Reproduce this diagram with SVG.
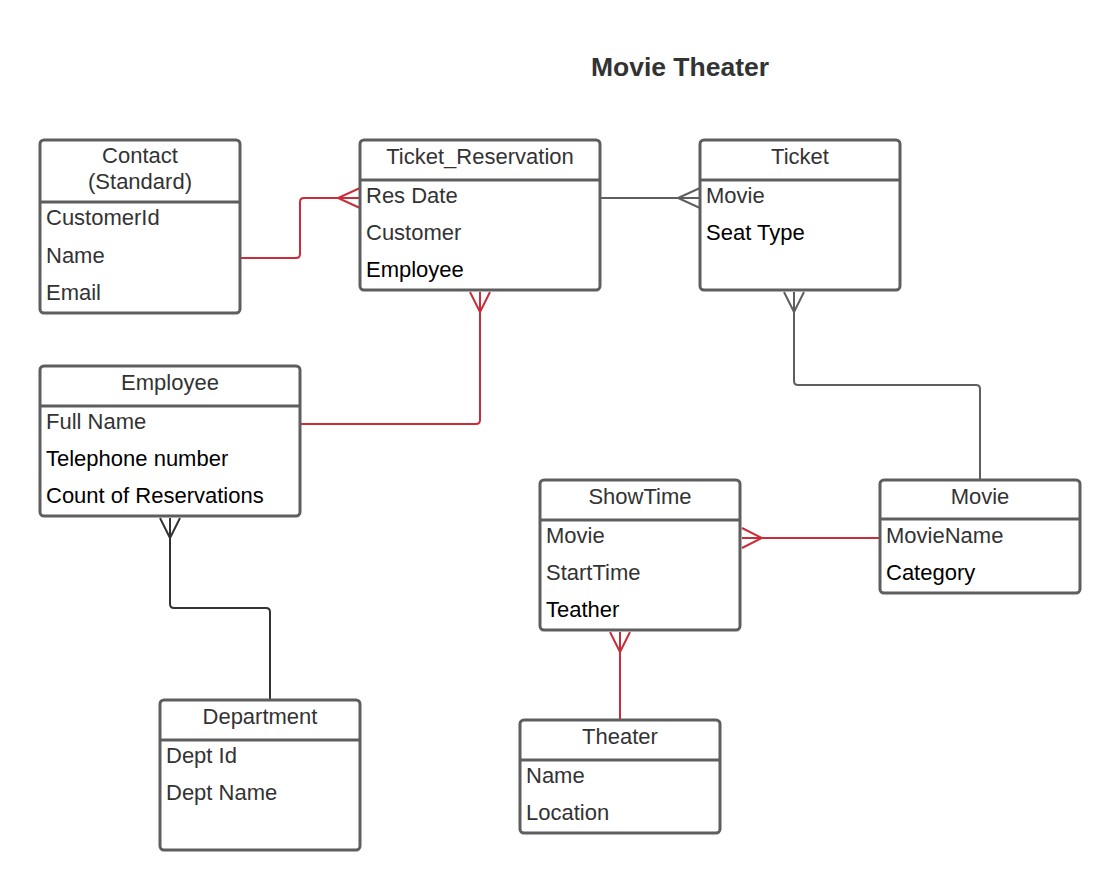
<svg xmlns="http://www.w3.org/2000/svg" width="1120" height="891" viewBox="0 0 1120 891">
<style>
.box{fill:#fff;stroke:#5e5e5e;stroke-width:3}
.div{stroke:#5e5e5e;stroke-width:3}
.hd{font-family:"Liberation Sans",Arial,sans-serif;font-size:22px;fill:#333;text-anchor:middle}
.at{font-family:"Liberation Sans",Arial,sans-serif;font-size:22px;fill:#333}
.bk{fill:#000}
.red{fill:none;stroke:#c92d39;stroke-width:2}
.gry{fill:none;stroke:#5e5e5e;stroke-width:2}
.drk{fill:none;stroke:#333;stroke-width:2}
.title{font-family:"Liberation Sans",Arial,sans-serif;font-size:26.5px;font-weight:bold;fill:#333;text-anchor:middle}
</style>
<rect width="1120" height="891" fill="#fff"/>
<text class="title" x="680" y="76">Movie Theater</text>
<g id="connectors">
<path class="red" d="M241,258 H296 Q300,258 300,254 V202 Q300,198 304,198 H360"/>
<path class="red" d="M360,188 L338,198 L360,208"/>
<path class="gry" d="M601,198 H700"/>
<path class="gry" d="M700,188 L678,198 L700,208"/>
<path class="red" d="M301,424 H476 Q480,424 480,420 V292"/>
<path class="red" d="M470,292 L480,312 L490,292"/>
<path class="gry" d="M794,292 V381 Q794,385 798,385 H976 Q980,385 980,389 V480"/>
<path class="gry" d="M784,292 L794,312 L804,292"/>
<path class="red" d="M880,538 H742"/>
<path class="red" d="M742,528 L762,538 L742,548"/>
<path class="red" d="M620,720 V632"/>
<path class="red" d="M610,632 L620,652 L630,632"/>
<path class="drk" d="M270,700 V612 Q270,608 266,608 H174 Q170,608 170,604 V518"/>
<path class="drk" d="M160,518 L170,538 L180,518"/>
</g>
<g id="contact">
<rect class="box" x="40" y="140" width="200" height="173" rx="4"/>
<line class="div" x1="40" y1="202" x2="240" y2="202"/>
<text class="hd" x="140" y="163">Contact</text>
<text class="hd" x="140" y="189">(Standard)</text>
<text class="at" x="46" y="225">CustomerId</text>
<text class="at" x="46" y="263">Name</text>
<text class="at" x="46" y="300">Email</text>
</g>
<g id="ticket_reservation">
<rect class="box" x="360" y="140" width="240" height="150" rx="4"/>
<line class="div" x1="360" y1="180" x2="600" y2="180"/>
<text class="hd" x="480" y="164">Ticket_Reservation</text>
<text class="at" x="366" y="203">Res Date</text>
<text class="at" x="366" y="240">Customer</text>
<text class="at bk" x="366" y="277">Employee</text>
</g>
<g id="ticket">
<rect class="box" x="700" y="140" width="200" height="150" rx="4"/>
<line class="div" x1="700" y1="180" x2="900" y2="180"/>
<text class="hd" x="800" y="164">Ticket</text>
<text class="at" x="706" y="203">Movie</text>
<text class="at bk" x="706" y="240">Seat Type</text>
</g>
<g id="employee">
<rect class="box" x="40" y="366" width="260" height="150" rx="4"/>
<line class="div" x1="40" y1="406" x2="300" y2="406"/>
<text class="hd" x="170" y="390">Employee</text>
<text class="at" x="46" y="429">Full Name</text>
<text class="at bk" x="46" y="466">Telephone number</text>
<text class="at bk" x="46" y="503">Count of Reservations</text>
</g>
<g id="showtime">
<rect class="box" x="540" y="480" width="200" height="150" rx="4"/>
<line class="div" x1="540" y1="520" x2="740" y2="520"/>
<text class="hd" x="640" y="504">ShowTime</text>
<text class="at" x="546" y="543">Movie</text>
<text class="at" x="546" y="580">StartTime</text>
<text class="at bk" x="546" y="617">Teather</text>
</g>
<g id="movie">
<rect class="box" x="880" y="480" width="200" height="113" rx="4"/>
<line class="div" x1="880" y1="519" x2="1080" y2="519"/>
<text class="hd" x="980" y="504">Movie</text>
<text class="at" x="886" y="543">MovieName</text>
<text class="at bk" x="886" y="580">Category</text>
</g>
<g id="department">
<rect class="box" x="160" y="700" width="200" height="150" rx="4"/>
<line class="div" x1="160" y1="740" x2="360" y2="740"/>
<text class="hd" x="260" y="724">Department</text>
<text class="at" x="166" y="763">Dept Id</text>
<text class="at" x="166" y="800">Dept Name</text>
</g>
<g id="theater">
<rect class="box" x="520" y="720" width="200" height="113" rx="4"/>
<line class="div" x1="520" y1="760" x2="720" y2="760"/>
<text class="hd" x="620" y="744">Theater</text>
<text class="at" x="526" y="783">Name</text>
<text class="at" x="526" y="820">Location</text>
</g>
</svg>
